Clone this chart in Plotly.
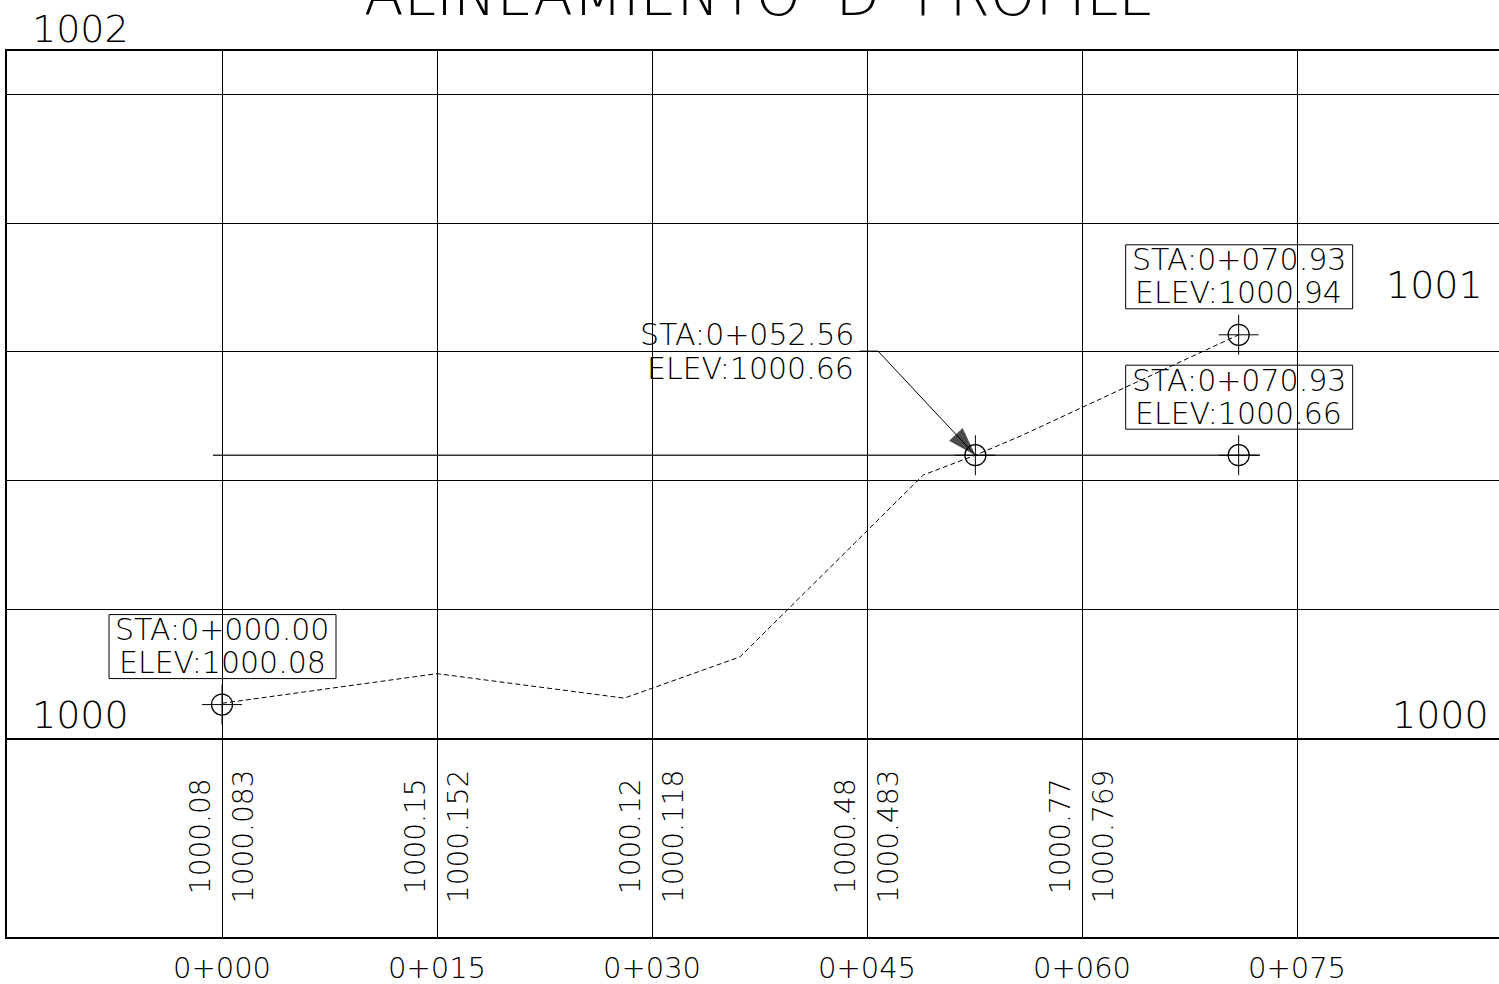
import plotly.graph_objects as go

# ---------------- data ----------------
stations = [0, 15, 30, 45, 60, 75]
station_labels = ["0+000", "0+015", "0+030", "0+045", "0+060", "0+075"]

band_stations = [0, 15, 30, 45, 60]
band_terrain = ["1000.08", "1000.15", "1000.12", "1000.48", "1000.77"]
band_design = ["1000.083", "1000.152", "1000.118", "1000.483", "1000.769"]

profile_sta = [0, 15, 28.07, 36.14, 48.93, 52.56, 55.74, 70.93]
profile_elev = [1000.083, 1000.152, 1000.095, 1000.191, 1000.614, 1000.66, 1000.705, 1000.94]

point_sta = [0, 52.56, 70.93, 70.93]
point_elev = [1000.08, 1000.66, 1000.94, 1000.66]
point_boxed = [True, False, True, True]

ref_line_sta = [-0.63, 72.42]
ref_line_elev = [1000.66, 1000.66]

grid_elev = [1000.0, 1000.3, 1000.6, 1000.9, 1001.2, 1001.5]

elev_labels = ["1000", "1000", "1001"]
elev_label_sta = [-9.9, 85.0, 84.6]
elev_label_elev = [1000.056, 1000.056, 1001.056]

top_label = "1002"
top_label_sta = -9.9

# leader: text stub then diagonal to the 0+052.56 point
leader_sta = [44.5, 45.77, 52.56]
leader_elev = [1000.902, 1000.902, 1000.66]

title_text = "ALINEAMIENTO 'D' PROFILE"

# ---------------- style ----------------
FONT = "DejaVu Sans"
X_RANGE = [-15, 89.093]
Y_RANGE = [999.5395, 1001.6]
BAND_Y = 999.774

fig = go.Figure()

# reference horizontal line
fig.add_trace(go.Scatter(x=ref_line_sta, y=ref_line_elev, mode="lines",
                         line=dict(color="#333", width=1.6), hoverinfo="skip"))

# profile (dashed)
fig.add_trace(go.Scatter(x=profile_sta, y=profile_elev, mode="lines",
                         line=dict(color="black", width=1, dash="5px,3px"), hoverinfo="skip"))

# leader with arrow head
fig.add_trace(go.Scatter(x=leader_sta, y=leader_elev, mode="lines+markers",
                         line=dict(color="black", width=1),
                         marker=dict(symbol=["circle", "circle", "arrow"], size=[0, 0, 30],
                                     angleref="previous", color="black",
                                     line=dict(width=0)),
                         hoverinfo="skip"))

# point markers: circle + long crosshair
fig.add_trace(go.Scatter(x=point_sta, y=point_elev, mode="markers",
                         marker=dict(symbol="circle-open", size=21, color="black",
                                     line=dict(width=1.2, color="black")),
                         hoverinfo="skip"))
fig.add_trace(go.Scatter(x=point_sta, y=point_elev, mode="markers",
                         marker=dict(symbol="cross-thin-open", size=28.6, color="black",
                                     line=dict(width=1, color="black")),
                         hoverinfo="skip"))

shapes = []
annotations = []

# thick 1000 line
shapes.append(dict(type="line", xref="paper", x0=0, x1=1, yref="y", y0=1000, y1=1000,
                   line=dict(color="black", width=2)))

lab_font = dict(family=FONT, size=30, color="black", weight=200)
for s, e, boxed in zip(point_sta, point_elev, point_boxed):
    sta_txt = "STA:0+%06.2f" % s
    elev_txt = "ELEV:%.2f" % e
    if boxed:
        shapes.append(dict(type="rect", xref="x", yref="y",
                           xsizemode="pixel", ysizemode="pixel",
                           xanchor=s, yanchor=e, x0=-113, x1=114, y0=26, y1=90,
                           line=dict(color="black", width=1)))
        annotations.append(dict(x=s, y=e, xref="x", yref="y", text=sta_txt, showarrow=False,
                                xanchor="center", yanchor="middle", yshift=75, font=lab_font))
        annotations.append(dict(x=s, y=e, xref="x", yref="y", text=elev_txt, showarrow=False,
                                xanchor="center", yanchor="middle", yshift=42, font=lab_font))
    else:
        annotations.append(dict(x=leader_sta[1], y=leader_elev[1], xref="x", yref="y",
                                text=sta_txt, showarrow=False, xanchor="right", yanchor="middle",
                                xshift=-22, yshift=17, font=lab_font))
        annotations.append(dict(x=leader_sta[1], y=leader_elev[1], xref="x", yref="y",
                                text=elev_txt, showarrow=False, xanchor="right", yanchor="middle",
                                xshift=-22, yshift=-17, font=lab_font))

# band values (rotated)
band_font = dict(family=FONT, size=28, color="black", weight=200)
for s, t, d in zip(band_stations, band_terrain, band_design):
    annotations.append(dict(x=s, y=BAND_Y, xref="x", yref="y", text=t, textangle=-90,
                            showarrow=False, xshift=-22, font=band_font))
    annotations.append(dict(x=s, y=BAND_Y, xref="x", yref="y", text=d, textangle=-90,
                            showarrow=False, xshift=21, font=band_font))

# elevation labels
big_font = dict(family=FONT, size=38, color="black", weight=200)
for t, s, e in zip(elev_labels, elev_label_sta, elev_label_elev):
    annotations.append(dict(x=s, y=e, xref="x", yref="y", text=t, showarrow=False, font=big_font))
annotations.append(dict(x=top_label_sta, y=1.0243, xref="x", yref="paper", text=top_label,
                        showarrow=False, yanchor="middle", font=big_font))

# title (clipped at top like the reference)
annotations.append(dict(x=37.5, y=1.0632, xref="x", yref="paper", text=title_text, showarrow=False,
                        yanchor="middle",
                        font=dict(family=FONT, size=58, color="black", weight=200)))

fig.update_layout(
    width=1499, height=984,
    margin=dict(l=7, r=0, t=51, b=47),
    paper_bgcolor="white", plot_bgcolor="white",
    showlegend=False,
    shapes=shapes, annotations=annotations,
    xaxis=dict(range=X_RANGE, tickvals=stations, ticktext=station_labels,
               showgrid=True, gridcolor="black", gridwidth=1, zeroline=False,
               showline=True, mirror=True, linecolor="black", linewidth=2,
               ticks="", ticklabelstandoff=4,
               tickfont=dict(family=FONT, size=29, color="black", weight=200)),
    yaxis=dict(range=Y_RANGE, tickvals=grid_elev, showticklabels=False,
               showgrid=True, gridcolor="black", gridwidth=1.2, zeroline=False,
               showline=True, linecolor="black", linewidth=1.5, ticks=""),
)

fig.write_html("out.html", config={"displayModeBar": False},
               post_script="document.body.style.margin='0px';")
